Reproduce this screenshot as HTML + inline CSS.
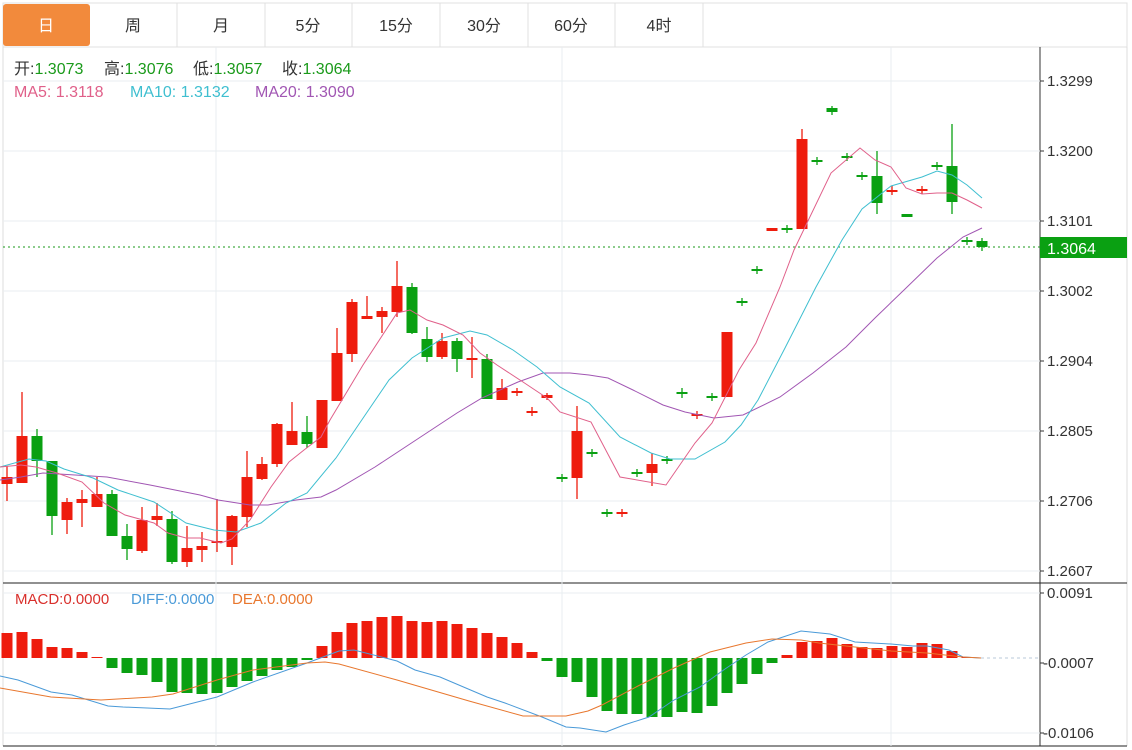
<!DOCTYPE html>
<html><head><meta charset="utf-8">
<style>
html,body{margin:0;padding:0;background:#fff;width:1132px;height:750px;overflow:hidden;font-family:"Liberation Sans","Noto Sans CJK SC",sans-serif;}
svg{position:absolute;left:0;top:0}
</style></head>
<body>
<svg id="s" width="1132" height="750" xmlns="http://www.w3.org/2000/svg" font-family="Liberation Sans, Noto Sans CJK SC, sans-serif">
<rect x="3" y="3" width="1124" height="44" fill="#fff" stroke="#e0e0e0"/>
<g stroke="#e0e0e0">
<line x1="177" y1="3" x2="177" y2="47"/><line x1="265" y1="3" x2="265" y2="47"/><line x1="352" y1="3" x2="352" y2="47"/><line x1="440" y1="3" x2="440" y2="47"/><line x1="528" y1="3" x2="528" y2="47"/><line x1="615" y1="3" x2="615" y2="47"/><line x1="703" y1="3" x2="703" y2="47"/>
</g>
<rect x="3" y="4" width="87" height="42" rx="3" fill="#f28a3c"/>
<g font-size="16" fill="#333" text-anchor="middle">
<text x="46" y="31" fill="#fff">日</text>
<text x="133" y="31">周</text>
<text x="221" y="31">月</text>
<text x="308" y="31">5分</text>
<text x="396" y="31">15分</text>
<text x="484" y="31">30分</text>
<text x="571" y="31">60分</text>
<text x="659" y="31">4时</text>
</g>
<line x1="3" y1="47" x2="3" y2="746" stroke="#ddd"/>
<line x1="1127" y1="47" x2="1127" y2="746" stroke="#ddd"/>
<line x1="1040" y1="47" x2="1040" y2="746" stroke="#333"/>
<line x1="3" y1="583" x2="1127" y2="583" stroke="#222"/>
<line x1="3" y1="746" x2="1127" y2="746" stroke="#222"/>
<g stroke="#e9edf0">
<line x1="3" y1="81" x2="1040" y2="81"/><line x1="3" y1="151" x2="1040" y2="151"/><line x1="3" y1="221" x2="1040" y2="221"/><line x1="3" y1="291" x2="1040" y2="291"/><line x1="3" y1="361" x2="1040" y2="361"/><line x1="3" y1="431" x2="1040" y2="431"/><line x1="3" y1="501" x2="1040" y2="501"/><line x1="3" y1="571" x2="1040" y2="571"/>
<line x1="3" y1="593" x2="1040" y2="593"/><line x1="3" y1="733" x2="1040" y2="733"/>
<line x1="216" y1="47" x2="216" y2="746"/><line x1="562" y1="47" x2="562" y2="746"/><line x1="891" y1="47" x2="891" y2="746"/>
</g>
<g font-size="15" fill="#333">
<text x="1047" y="86">1.3299</text><text x="1047" y="156">1.3200</text><text x="1047" y="226">1.3101</text><text x="1047" y="296">1.3002</text><text x="1047" y="366">1.2904</text><text x="1047" y="436">1.2805</text><text x="1047" y="506">1.2706</text><text x="1047" y="576">1.2607</text>
<text x="1047" y="598">0.0091</text><text x="1043" y="668">-0.0007</text><text x="1043" y="738">-0.0106</text>
</g>
<g stroke="#333">
<line x1="1040" y1="81" x2="1044" y2="81"/><line x1="1040" y1="151" x2="1044" y2="151"/><line x1="1040" y1="221" x2="1044" y2="221"/><line x1="1040" y1="291" x2="1044" y2="291"/><line x1="1040" y1="361" x2="1044" y2="361"/><line x1="1040" y1="431" x2="1044" y2="431"/><line x1="1040" y1="501" x2="1044" y2="501"/><line x1="1040" y1="571" x2="1044" y2="571"/>
<line x1="1040" y1="593" x2="1044" y2="593"/><line x1="1040" y1="663" x2="1044" y2="663"/><line x1="1040" y1="733" x2="1044" y2="733"/>
</g>
<g font-size="16">
<text x="14" y="74" fill="#333">开:<tspan fill="#1a9a1a">1.3073</tspan></text>
<text x="104" y="74" fill="#333">高:<tspan fill="#1a9a1a">1.3076</tspan></text>
<text x="193" y="74" fill="#333">低:<tspan fill="#1a9a1a">1.3057</tspan></text>
<text x="282" y="74" fill="#333">收:<tspan fill="#1a9a1a">1.3064</tspan></text>
<text x="14" y="97" fill="#e0608a">MA5: 1.3118</text>
<text x="130" y="97" fill="#3fbfd0">MA10: 1.3132</text>
<text x="255" y="97" fill="#a156b3">MA20: 1.3090</text>
<text x="15" y="604" font-size="15" fill="#d9302c">MACD:0.0000</text>
<text x="131" y="604" font-size="15" fill="#4a9ad8">DIFF:0.0000</text>
<text x="232" y="604" font-size="15" fill="#e8772e">DEA:0.0000</text>
</g>
<line x1="3" y1="247" x2="1040" y2="247" stroke="#1a9a1a" stroke-dasharray="2,3"/>
<rect x="1040" y="237" width="87" height="21" fill="#0aa012"/>
<text x="1047" y="254" font-size="16" fill="#fff">1.3064</text>
<line x1="981" y1="658" x2="1040" y2="658" stroke="#b8c8d8" stroke-dasharray="3,3"/>
<g id="g"></g>
</svg>
<script>
var g=document.getElementById('g'),NS='http://www.w3.org/2000/svg';
function el(t,a){var e=document.createElementNS(NS,t);for(var k in a)e.setAttribute(k,a[k]);g.appendChild(e);return e;}
var R='#ee1c0d',G='#0aa012';
var c=[[0,'r',477,484,466,501],[1,'r',436,483,392,483],[2,'g',436,461,429,477],[3,'g',461,516,461,535],[4,'r',502,520,498,534],[5,'r',499,503,490,527],[6,'r',494,507,477,507],[7,'g',494,536,490,536],[8,'g',536,549,524,560],[9,'r',520,551,507,553],[10,'r',516,520,503,526],[11,'g',519,562,511,564],[12,'r',548,562,526,567],[13,'r',546,550,532,562],[14,'r',541,543,499,552],[15,'r',516,547,515,565],[16,'r',477,517,451,527],[17,'r',464,479,457,480],[18,'r',424,464,423,467],[19,'r',431,445,402,445],[20,'g',432,444,416,448],[21,'r',400,448,400,448],[22,'r',353,401,328,401],[23,'r',302,354,299,362],[24,'r',316,319,296,319],[25,'r',311,317,307,333],[26,'r',286,312,261,317],[27,'g',287,333,283,334],[28,'g',339,357,327,362],[29,'r',341,357,333,359],[30,'g',341,359,338,372],[31,'r',358,360,337,378],[32,'g',359,399,354,399],[33,'r',388,400,379,400],[34,'r',391,393,388,396],[35,'r',411,413,407,416],[36,'r',395,398,393,400],[37,'g',477,479,474,482],[38,'r',431,478,406,499],[39,'g',452,454,449,457],[40,'g',512,514,509,517],[41,'r',512,514,509,517],[42,'g',472,474,469,477],[43,'r',464,473,453,486],[44,'g',459,461,456,464],[45,'g',392,394,388,398],[46,'r',414,416,411,419],[47,'g',396,398,393,401],[48,'r',332,397,332,397],[49,'g',301,303,298,306],[50,'g',269,271,266,274],[51,'r',228,231,228,231],[52,'g',228,230,225,233],[53,'r',139,229,129,229],[54,'g',160,162,157,165],[55,'g',108,112,106,115],[56,'g',156,158,153,161],[57,'g',175,177,172,180],[58,'g',176,203,151,214],[59,'r',190,192,186,195],[60,'g',214,217,214,217],[61,'r',189,191,186,194],[62,'g',165,167,162,170],[63,'g',166,202,124,214],[64,'g',240,242,237,245],[65,'g',241,247,238,251]];
var h=[633,632,639,647,648,652,657,668,673,675,682,692,693,694,693,687,681,676,670,667,660,646,632,623,621,617,616,621,622,621,624,628,633,637,643,652,661,677,682,697,711,714,714,717,717,712,713,706,693,684,674,663,655,642,641,638,644,647,648,646,647,643,644,651,657];
function X(i){return 7+15*i;}
h.forEach(function(v,i){var z=658,col=v<z?R:G;el('rect',{x:X(i)-5.5,y:Math.min(v,z),width:11,height:Math.max(1,Math.abs(v-z)),fill:col});});
function line(p,col,w){el('polyline',{points:p,fill:'none',stroke:col,'stroke-width':w||1});}
line('0,676 18,680 51,692 72,695 108,706 123,707 170,709 217,697 253,682 307,663 339,651 354,650 397,661 415,670 440,677 487,697 505,703 542,717 566,727 580,728 606,732 624,725 649,717 674,700 700,687 725,669 746,655 768,642 783,637 801,631 830,634 855,642 891,644 913,646 927,646 949,650 963,657 981,658','#4a9ad8');
line('0,688 51,697 101,700 152,697 173,694 217,680 253,670 307,663 325,662 339,664 397,680 469,701 523,716 566,716 588,711 602,705 638,686 674,668 710,652 746,643 772,639 801,640 819,643 855,647 891,651 927,653 963,657 981,658','#e8772e');
c.forEach(function(d){var x=X(d[0]),col=d[1]=='r'?R:G;el('line',{x1:x,y1:d[4],x2:x,y2:d[5],stroke:col,'stroke-width':1.3});el('rect',{x:x-5.5,y:d[2],width:11,height:Math.max(2,d[3]-d[2]),fill:col});});
line('0,480 21,477 43,473 107,477 150,485 200,495 218,500 250,505 268,505 296,500 321,497 336,490 375,467 457,413 482,398 518,382 543,373 570,373 589,375 608,378 633,390 663,405 685,412 714,418 743,415 780,397 813,373 846,347 875,318 904,290 937,258 963,237 982,228','#a156b3');
line('0,467 29,459 46,461 64,469 93,478 118,490 154,502 186,523 214,530 236,532 261,523 286,503 307,493 336,458 357,427 389,380 412,358 443,338 470,331 487,335 513,350 537,367 560,387 589,403 620,437 651,453 670,459 695,459 725,442 741,425 758,400 785,348 816,287 842,240 862,209 891,186 922,177 937,171 952,175 967,185 982,198','#3fbfd0');
line('0,467 21,465 36,467 57,473 82,482 104,503 125,515 154,523 168,533 186,538 200,538 221,543 232,539 250,520 271,487 289,462 304,450 321,437 330,420 354,380 363,365 397,313 410,310 427,320 443,325 463,335 480,353 497,365 523,382 547,398 560,412 591,422 620,477 666,485 695,443 712,423 739,370 756,343 780,287 794,250 831,173 860,148 875,160 891,167 906,188 922,194 937,193 952,193 967,200 982,208','#e0608a');
</script>
</body></html>
